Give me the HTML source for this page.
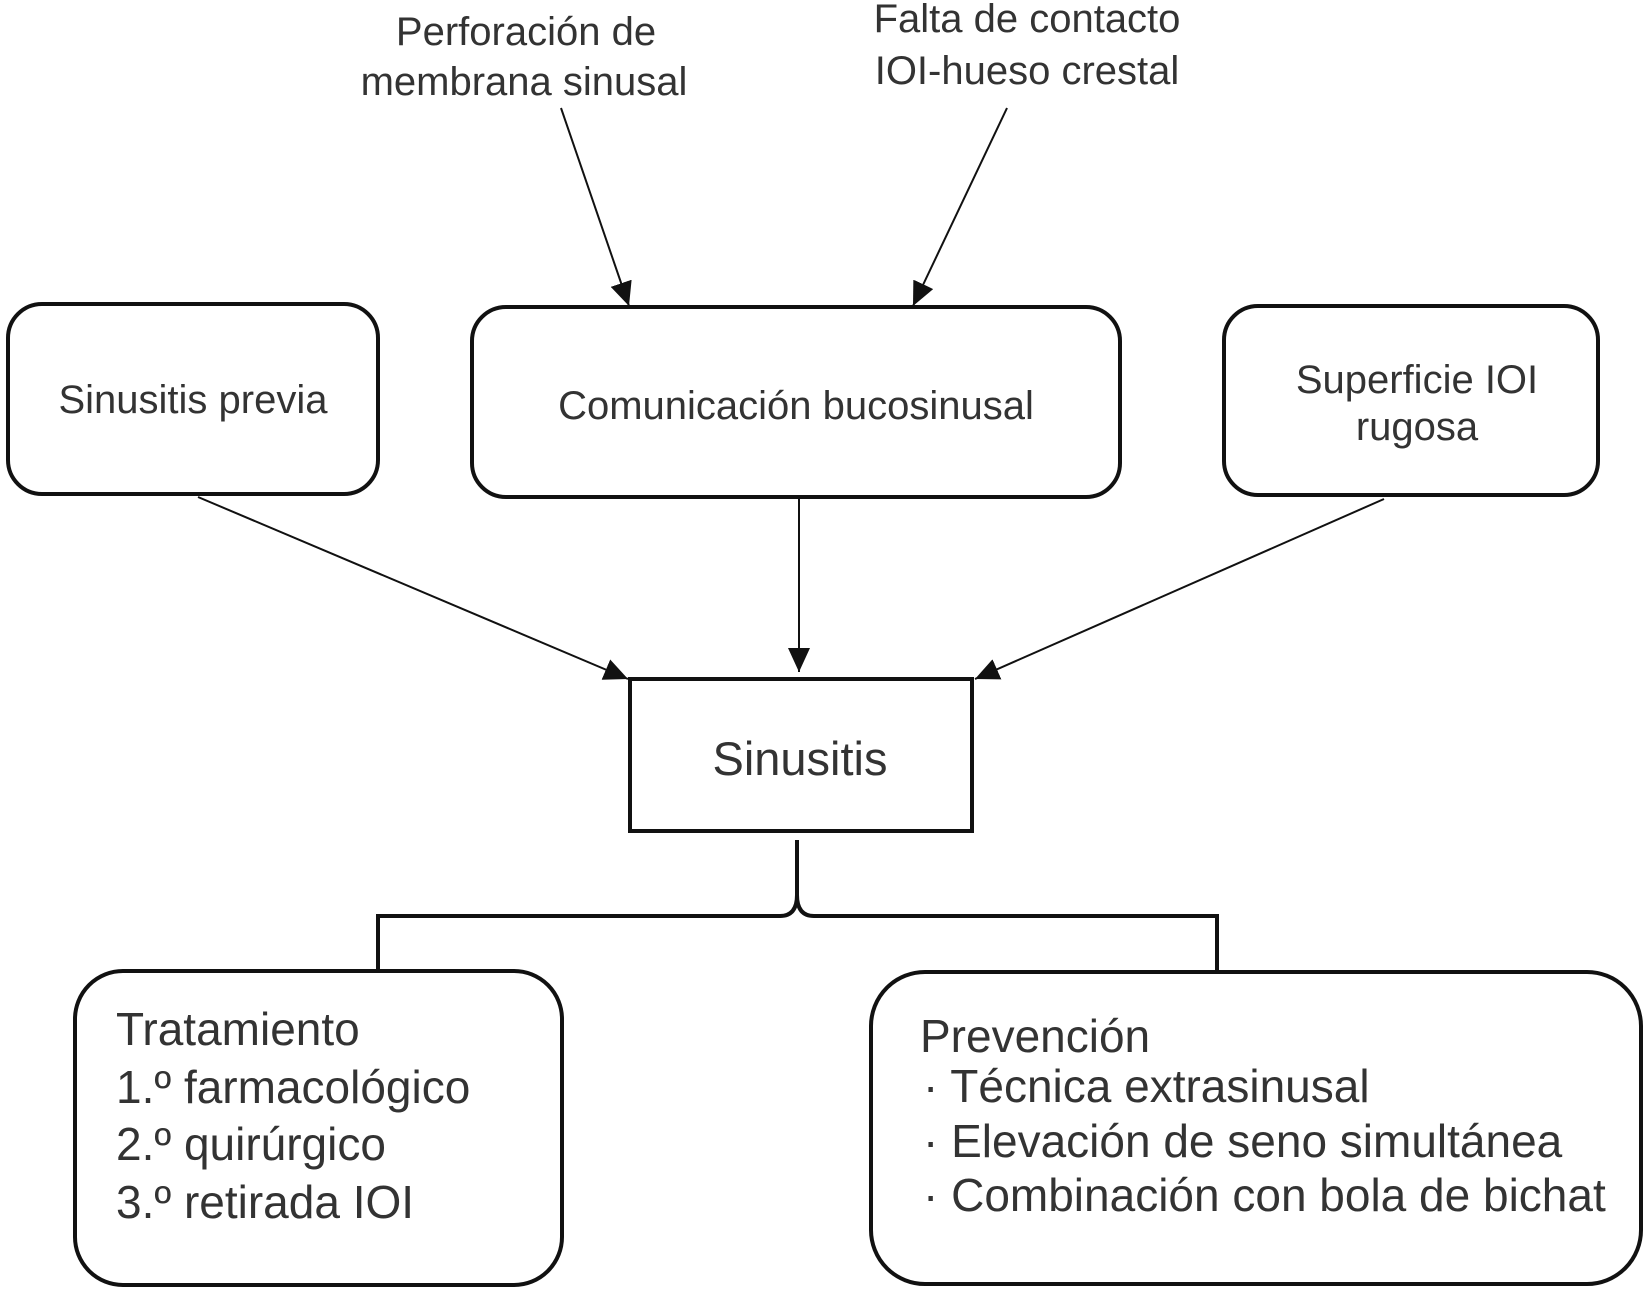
<!DOCTYPE html>
<html><head><meta charset="utf-8"><style>
html,body{margin:0;padding:0;background:#fff;}
svg{display:block;}
text{font-family:"Liberation Sans",Arial,sans-serif;fill:#333;}
</style></head><body>
<svg width="1648" height="1294" viewBox="0 0 1648 1294" xmlns="http://www.w3.org/2000/svg">
<defs>
<marker id="ah" viewBox="0 0 10 10" refX="10" refY="5" markerWidth="10" markerHeight="10" markerUnits="userSpaceOnUse" orient="auto">
<path d="M0,0 L10,5 L0,10 z" fill="#111"/>
</marker>
<marker id="ah2" viewBox="0 0 24 22" refX="24" refY="11" markerWidth="24" markerHeight="22" markerUnits="userSpaceOnUse" orient="auto">
<path d="M0,0 L24,11 L0,22 z" fill="#111"/>
</marker>
</defs>
<g fill="none" stroke="#111" stroke-width="4">
<rect x="8" y="304" width="370" height="190" rx="34"/>
<rect x="472" y="307" width="648" height="190" rx="34"/>
<rect x="1224" y="306" width="374" height="189" rx="34"/>
<rect x="630" y="679" width="342" height="152"/>
<rect x="75" y="971" width="487" height="314" rx="48"/>
<rect x="871" y="972" width="770" height="312" rx="54"/>
<path d="M797,840 L797,895 Q797,916 780,916 L378,916 L378,969"/>
<path d="M797,895 Q797,916 814,916 L1217,916 L1217,970"/>
</g>
<g stroke="#111" stroke-width="2" fill="none">
<line x1="561" y1="108" x2="629" y2="306" marker-end="url(#ah2)"/>
<line x1="1007" y1="108" x2="913" y2="306" marker-end="url(#ah2)"/>
<line x1="198" y1="497" x2="628" y2="679" marker-end="url(#ah2)"/>
<line x1="799" y1="498" x2="799" y2="672" marker-end="url(#ah2)"/>
<line x1="1384" y1="499" x2="975" y2="679" marker-end="url(#ah2)"/>
</g>
<g font-size="40" text-anchor="middle">
<text x="526" y="45">Perforación de</text>
<text x="524" y="95">membrana sinusal</text>
<text x="1027" y="32">Falta de contacto</text>
<text x="1027" y="84">IOI-hueso crestal</text>
<text x="193" y="413">Sinusitis previa</text>
<text x="796" y="419">Comunicación bucosinusal</text>
<text x="1417" y="393">Superficie IOI</text>
<text x="1417" y="440">rugosa</text>
</g>
<text x="800" y="775" font-size="47" text-anchor="middle">Sinusitis</text>
<g font-size="46">
<text x="116" y="1045">Tratamiento</text>
<text x="116" y="1103">1.º farmacológico</text>
<text x="116" y="1160">2.º quirúrgico</text>
<text x="116" y="1218">3.º retirada IOI</text>
<text x="920" y="1052">Prevención</text>
<text x="923" y="1102">· Técnica extrasinusal</text>
<text x="923" y="1157">· Elevación de seno simultánea</text>
<text x="923" y="1211">· Combinación con bola de bichat</text>
</g>
</svg>
</body></html>
